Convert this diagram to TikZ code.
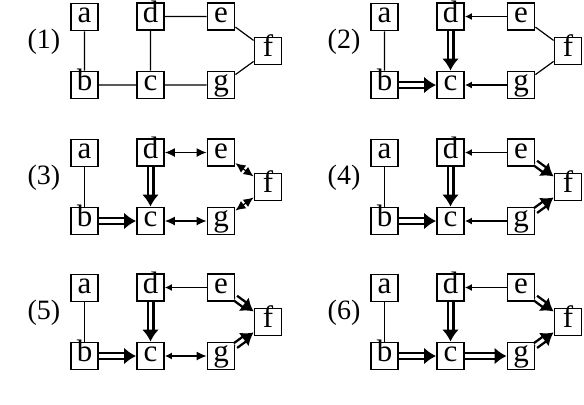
\documentclass[tikz,border=0pt]{standalone}
\usepackage{fontspec}
\setmainfont{Liberation Serif}
\usetikzlibrary{arrows.meta}

\begin{document}
\begin{tikzpicture}[
  x=0.5pt, y=-0.5pt,
  vtx/.style={draw, line width=0.9pt, inner sep=0pt,
              minimum width=13.5pt, minimum height=13.5pt,
              text height=0.75em, text depth=0.18em,
              font=\fontsize{15.5}{15.5}\selectfont},
  tag/.style={font=\fontsize{14}{14}\selectfont},
  ln/.style={line width=0.6pt},
  mk/.style={ln, <-, >={Latex[length=3.5pt,width=3.5pt]}},
  bi/.style={ln, <->, >={Latex[length=5pt,width=4.5pt]}},
  fw/.style={ln, {Latex[length=3.5pt,width=3.5pt]}-{Latex[length=5pt,width=4.5pt]}},
  dbl/.style={double, double distance=1.6pt, line width=1.2pt,
              -{Latex[length=6pt,width=8.5pt]}}
]
\useasboundingbox (0,0) rectangle (584,404);

%% --- Nodes of the six panels ----------------------------------
\foreach \n/\x/\y in {1/0/0, 2/300/0, 3/0/136, 4/300/136, 5/0/271, 6/300/271} {
  \begin{scope}[shift={(\x,\y)}]
    \node[tag] (t\n) at (44,42) {(\n)};
    \node[vtx] (a\n) at (84.5,17) {a};
    \node[vtx] (b\n) at (84.5,85) {b};
    \node[vtx] (c\n) at (150.5,85) {c};
    \node[vtx] (d\n) at (150.5,16.5) {d};
    \node[vtx] (e\n) at (221,16.5) {e};
    \node[vtx] (f\n) at (268,51) {f};
    \node[vtx] (g\n) at (221,85) {g};
  \end{scope}
}

%% --- (1) ------------------------------------------------------
\draw[ln] (a1) -- (b1) (b1) -- (c1) (c1) -- (d1) (d1) -- (e1)
          (e1) -- (f1) (f1) -- (g1) (g1) -- (c1);

%% --- (2) ------------------------------------------------------
\draw[ln] (a2) -- (b2) (e2) -- (f2) (f2) -- (g2);
\draw[dbl] (b2) -- (c2);
\draw[dbl] (d2) -- (c2);
\draw[mk] (d2) -- (e2);
\draw[mk] (c2) -- (g2);

%% --- (3) ------------------------------------------------------
\draw[ln] (a3) -- (b3);
\draw[dbl] (b3) -- (c3);
\draw[dbl] (d3) -- (c3);
\draw[bi] (d3) -- (e3);
\draw[bi] (e3) -- (f3);
\draw[bi] (f3) -- (g3);
\draw[bi] (c3) -- (g3);

%% --- (4) ------------------------------------------------------
\draw[ln] (a4) -- (b4);
\draw[dbl] (b4) -- (c4);
\draw[dbl] (d4) -- (c4);
\draw[dbl] (e4) -- (f4);
\draw[dbl] (g4) -- (f4);
\draw[mk] (d4) -- (e4);
\draw[mk] (c4) -- (g4);

%% --- (5) ------------------------------------------------------
\draw[ln] (a5) -- (b5);
\draw[dbl] (b5) -- (c5);
\draw[dbl] (d5) -- (c5);
\draw[dbl] (e5) -- (f5);
\draw[dbl] (g5) -- (f5);
\draw[mk] (d5) -- (e5);
\draw[fw] (c5) -- (g5);

%% --- (6) ------------------------------------------------------
\draw[ln] (a6) -- (b6);
\draw[dbl] (b6) -- (c6);
\draw[dbl] (d6) -- (c6);
\draw[dbl] (c6) -- (g6);
\draw[dbl] (e6) -- (f6);
\draw[dbl] (g6) -- (f6);
\draw[mk] (d6) -- (e6);

\end{tikzpicture}
\end{document}
